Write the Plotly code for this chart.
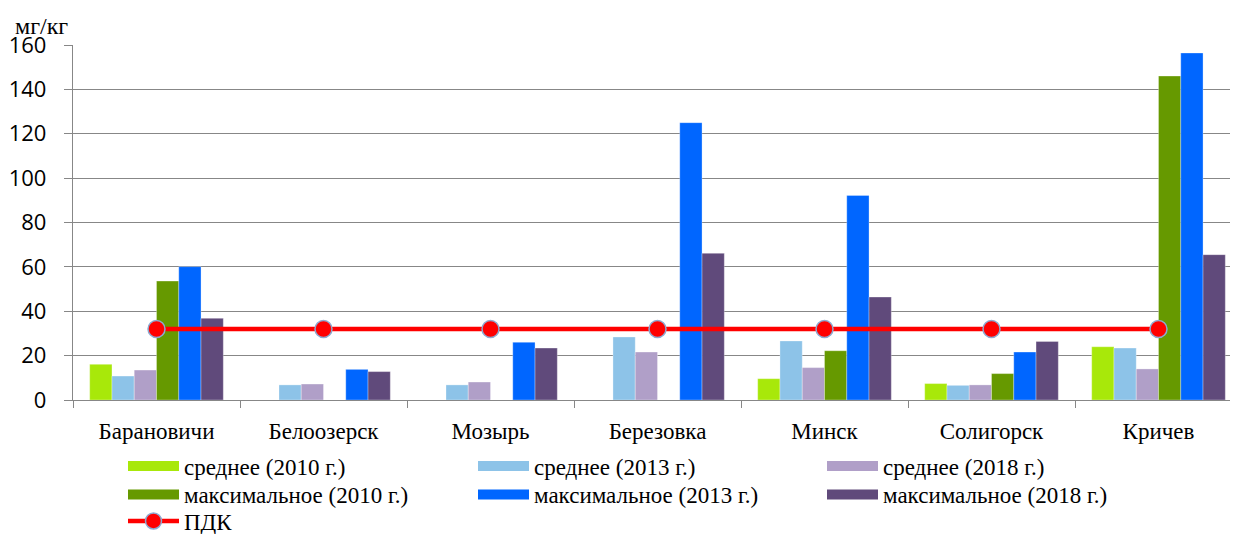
import plotly.graph_objects as go

cities = ["Барановичи", "Белоозерск", "Мозырь", "Березовка", "Минск", "Солигорск", "Кричев"]

avg_2010 = [16.1, 0, 0, 0, 9.6, 7.4, 24.0]
avg_2013 = [10.8, 6.8, 6.8, 28.4, 26.6, 6.6, 23.4]
avg_2018 = [13.5, 7.2, 8.1, 21.6, 14.6, 6.8, 14.0]
max_2010 = [53.6, 0, 0, 0, 22.2, 11.9, 146.0]
max_2013 = [60.1, 13.8, 26.0, 125.0, 92.2, 21.6, 156.4]
max_2018 = [36.8, 12.8, 23.4, 66.1, 46.4, 26.4, 65.5]
pdk = [32, 32, 32, 32, 32, 32, 32]

y_ticks = [0, 20, 40, 60, 80, 100, 120, 140, 160]

series = [
    ("среднее (2010 г.)", avg_2010, "#A8E80A"),
    ("среднее (2013 г.)", avg_2013, "#8DC3E8"),
    ("среднее (2018 г.)", avg_2018, "#B09FC8"),
    ("максимальное (2010 г.)", max_2010, "#669900"),
    ("максимальное (2013 г.)", max_2013, "#0066FF"),
    ("максимальное (2018 г.)", max_2018, "#604A7B"),
]

SERIF = "Liberation Serif, Times New Roman, serif"
GRID = "#878787"

# the page body has an 8px margin, so the figure is a bit smaller than the window
W, H = 1230, 526

# legend slots (left edge, row centre) in figure pixels, one legend per entry
legend_cols = [115, 465, 814]
legend_rows = [458, 486.5, 513]
slots = [(c, r) for r in legend_rows[:2] for c in legend_cols] + [(legend_cols[0], legend_rows[2])]

fig = go.Figure()

for name, values, color in series:
    fig.add_trace(go.Bar(
        x=cities, y=values, name=name,
        marker=dict(color=color, line=dict(width=0.6, color="rgba(255,255,255,0.5)")),
        legendgroup=name, showlegend=False,
    ))

# wide legend swatches like the original
for i, (name, values, color) in enumerate(series):
    fig.add_trace(go.Scatter(
        x=[None], y=[None], name=name, mode="lines",
        line=dict(color=color, width=12),
        legend="legend" if i == 0 else f"legend{i + 1}", legendgroup=name,
    ))

fig.add_trace(go.Scatter(
    x=cities, y=pdk, name="ПДК", mode="lines+markers",
    line=dict(color="#FF0000", width=4.5),
    marker=dict(size=17, color="#FF0000", line=dict(color="#8EA9D0", width=1.5)),
    legend="legend7", legendgroup="ПДК",
))

legends = {}
for i, (lx, ly) in enumerate(slots):
    key = "legend" if i == 0 else f"legend{i + 1}"
    legends[key] = dict(
        xref="container", yref="container",
        x=lx / W, y=1 - ly / H, xanchor="left", yanchor="middle",
        font=dict(family=SERIF, size=23, color="#000000"),
        bgcolor="rgba(0,0,0,0)", itemwidth=51, borderwidth=0,
    )

fig.update_layout(
    width=W, height=H,
    barmode="group", bargap=0.2, bargroupgap=0,
    paper_bgcolor="#ffffff", plot_bgcolor="#ffffff",
    margin=dict(l=65, r=0, t=37, b=134, autoexpand=False),
    showlegend=True,
    annotations=[dict(
        text="мг/кг", xref="paper", yref="paper",
        x=-60 / 1165, y=(392 - 18) / 355, xanchor="left", yanchor="middle",
        showarrow=False, font=dict(family=SERIF, size=24, color="#000000"),
    )],
    **legends,
)

fig.update_xaxes(
    range=[-0.5, 6.476],
    showgrid=False, zeroline=False,
    showline=True, linecolor=GRID, linewidth=1.3,
    ticks="outside", tickson="boundaries", ticklen=7, tickcolor=GRID, tickwidth=1.3,
    tickfont=dict(family=SERIF, size=23, color="#000000"),
    ticklabelstandoff=10, tickangle=0,
)

fig.update_yaxes(
    range=[0, 160], tickvals=y_ticks,
    showgrid=True, gridcolor=GRID, gridwidth=1.3,
    zeroline=False,
    showline=True, linecolor=GRID, linewidth=1.3,
    ticks="outside", ticklen=8, tickcolor=GRID, tickwidth=1.3,
    tickfont=dict(family="Open Sans, sans-serif", size=22, color="#000000"),
    ticklabelstandoff=13,
)

fig.write_html("out.html")
